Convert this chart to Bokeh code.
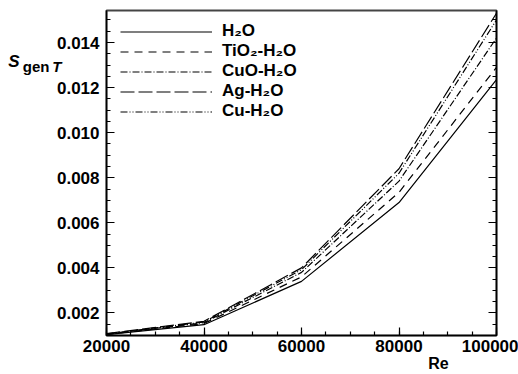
from bokeh.plotting import figure
from bokeh.models import (LinearAxis, Legend, LegendItem, FixedTicker,
                          PrintfTickFormatter, CustomJSTickFormatter)
from bokeh.embed import file_html
from bokeh.resources import INLINE

re_vals = [20000, 40000, 60000, 80000, 100000]
h2o = [0.00104, 0.00148, 0.00340, 0.00690, 0.01235]
tio2 = [0.00105, 0.00153, 0.00360, 0.00735, 0.01290]
cuo = [0.00106, 0.00157, 0.00380, 0.00785, 0.01420]
ag = [0.00108, 0.00163, 0.00400, 0.00840, 0.01530]
cu = [0.00107, 0.00160, 0.00392, 0.00820, 0.01500]

names = ["H₂O", "TiO₂-H₂O", "CuO-H₂O", "Ag-H₂O", "Cu-H₂O"]
series = [h2o, tio2, cuo, ag, cu]
dashes = ["solid", "8 6", "7 2 1 2", "14 4", "7 2 1 2 1 2"]

x_ticks = [20000, 40000, 60000, 80000, 100000]
y_ticks = [0.002, 0.004, 0.006, 0.008, 0.010, 0.012, 0.014]
x_title = "Re"
y_title_parts = ["S", "gen", "T"]

FONT = "Liberation Sans"
X0, X1 = 20000, 100000
Y0, Y1 = 0.0010, 0.01542

p = figure(width=518, height=374, output_backend="svg", toolbar_location=None,
           x_range=(X0, X1), y_range=(Y0, Y1),
           min_border_left=106, min_border_right=22, min_border_top=10, min_border_bottom=39)
p.background_fill_color = "white"
p.border_fill_color = "white"
p.xgrid.visible = False
p.ygrid.visible = False
p.outline_line_color = "#444444"
p.outline_line_width = 2

y_minor = [0.001 + 0.0005 * i for i in range(30)]

for ax in [p.xaxis[0], p.yaxis[0]]:
    ax.axis_line_color = "black"
    ax.axis_line_width = 1.5
    ax.major_tick_in = 8
    ax.major_tick_out = 0
    ax.minor_tick_in = 4
    ax.minor_tick_out = 0
    ax.major_tick_line_width = 1.2
    ax.minor_tick_line_width = 1.2
    ax.major_label_text_font = FONT
    ax.major_label_text_font_style = "bold"
    ax.major_label_text_color = "black"

p.xaxis.major_label_text_font_size = "17px"
p.yaxis.major_label_text_font_size = "17px"
p.xaxis.ticker = FixedTicker(ticks=x_ticks, minor_ticks=list(range(20000, 100001, 5000)))
p.yaxis.ticker = FixedTicker(ticks=y_ticks, minor_ticks=y_minor)
p.xaxis.major_label_standoff = 4
p.yaxis.major_label_standoff = 7
p.yaxis.formatter = PrintfTickFormatter(format="%.3f")
p.xaxis.formatter = PrintfTickFormatter(format="%d")

right = LinearAxis(ticker=FixedTicker(ticks=y_ticks, minor_ticks=y_minor),
                   formatter=CustomJSTickFormatter(code="return ''"))
right.major_tick_in = 8
right.major_tick_out = 0
right.minor_tick_in = 4
right.minor_tick_out = 0
right.axis_line_width = 1.5
right.axis_line_color = "black"
right.major_label_standoff = 0
p.add_layout(right, "right")

# title texts drawn as single-tick label axes stacked in the side panels
def px_to_x(px):
    return X0 + (px - 106) * (X1 - X0) / 390.0

def py_to_y(py):
    return Y0 + (335 - py) * (Y1 - Y0) / 325.0

def text_axis(pos, text, style, size, standoff=0):
    a = LinearAxis(ticker=FixedTicker(ticks=[pos], minor_ticks=[]),
                   formatter=CustomJSTickFormatter(code="return %r" % text))
    a.axis_line_color = None
    a.major_tick_line_color = None
    a.minor_tick_line_color = None
    a.major_tick_in = 0
    a.major_tick_out = 0
    a.minor_tick_in = 0
    a.minor_tick_out = 0
    a.major_label_standoff = standoff
    a.major_label_text_font = FONT
    a.major_label_text_font_style = style
    a.major_label_text_font_size = size
    a.major_label_text_color = "black"
    return a

# nearest the frame first
p.add_layout(text_axis(py_to_y(66), y_title_parts[2], "bold italic", "15px", -8), "left")
p.add_layout(text_axis(py_to_y(66), y_title_parts[1], "bold", "15px"), "left")
p.add_layout(text_axis(py_to_y(61), y_title_parts[0], "bold italic", "17px"), "left")
p.add_layout(text_axis(px_to_x(438), x_title, "bold", "16px"), "below")

items = []
for name, ys, d in zip(names, series, dashes):
    r = p.line(re_vals, ys, line_color="black", line_width=1.2, line_dash=d)
    items.append(LegendItem(label=name, renderers=[r]))

legend = Legend(items=items, location=(14, 214), glyph_width=92, glyph_height=19,
                label_height=19, spacing=0, padding=0, margin=0, label_standoff=10,
                border_line_color=None, background_fill_alpha=0,
                label_text_font=FONT, label_text_font_style="bold",
                label_text_font_size="17px", label_text_color="black")
p.add_layout(legend)

open("out.html", "w").write(file_html(p, INLINE))
